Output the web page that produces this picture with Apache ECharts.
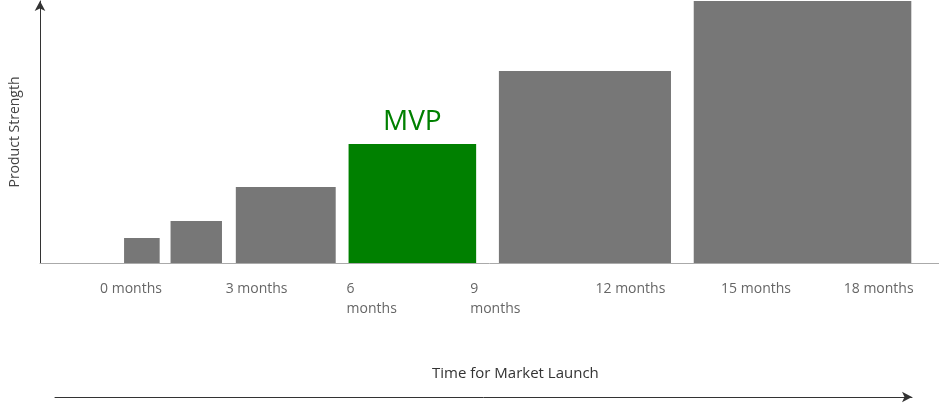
<!DOCTYPE html>
<html><head><meta charset="utf-8">
<script src="https://cdn.jsdelivr.net/npm/echarts@6/dist/echarts.min.js"></script>
<style>html,body{margin:0;padding:0;background:#fff}#c{width:939px;height:403px}</style>
</head><body><div id="c"></div>
<script>
// bars on a timeline: start, end, strength
var barStart = [115, 162, 228, 342, 494, 691];
var barEnd = [151, 214, 329, 471, 668, 911];
var strength = [25, 42, 76, 119, 192, 262];
var mvpIndex = 3;
var tickLabels = ['0 months', '3 months', '6\nmonths', '9\nmonths', '12 months', '15 months', '18 months'];
var tickPos = [122, 249, 340, 465, 627, 754, 878];
var tickAlign = ['center', 'center', 'left', 'left', 'center', 'center', 'center'];

var chart = echarts.init(document.getElementById('c'));
var bars = barStart.map(function (s, i) { return [s, barEnd[i], strength[i], i]; });
var ticks = tickPos.map(function (p, i) { return [p, i]; });

chart.setOption({
    animation: false,
    grid: [
        {left: 30, right: 0, top: 1, height: 262},
        {left: 55, right: 27, top: 397, height: 0}
    ],
    xAxis: [
        {type: 'value', min: 30, max: 939, gridIndex: 0,
         axisLine: {lineStyle: {color: '#aaaaaa', width: 1}},
         axisTick: {show: false}, axisLabel: {show: false}, splitLine: {show: false}},
        {type: 'value', min: 0, max: 1, gridIndex: 1,
         axisLine: {symbol: ['none', 'arrow'], symbolSize: [8, 10], lineStyle: {color: '#333', width: 1}},
         axisTick: {show: false}, axisLabel: {show: false}, splitLine: {show: false}}
    ],
    yAxis: [
        {type: 'value', min: 0, max: 262, gridIndex: 0,
         axisLine: {show: true, onZero: false, symbol: ['none', 'arrow'], symbolSize: [8, 10], lineStyle: {color: '#333', width: 1}},
         axisTick: {show: false}, axisLabel: {show: false}, splitLine: {show: false},
         name: 'Product Strength', nameLocation: 'middle', nameRotate: 90, nameGap: 18,
         nameTextStyle: {color: '#444', fontSize: 14, fontFamily: 'Open Sans'}},
        {type: 'value', gridIndex: 1, show: false}
    ],
    graphic: [
        {type: 'text', left: 432, top: 366,
         style: {text: 'Time for Market Launch', fill: '#333', fontSize: 15, fontFamily: 'Open Sans'}}
    ],
    series: [
        {type: 'custom', xAxisIndex: 0, yAxisIndex: 0, data: bars,
         renderItem: function (params, api) {
             var p0 = api.coord([api.value(0), api.value(2)]);
             var p1 = api.coord([api.value(1), 0]);
             var isMvp = api.value(3) === mvpIndex;
             var children = [{type: 'rect', shape: {x: p0[0], y: p0[1], width: p1[0] - p0[0], height: p1[1] - p0[1]},
                 style: {fill: isMvp ? '#008000' : '#777777'}}];
             if (isMvp) {
                 children.push({type: 'text', style: {text: 'MVP', x: (p0[0] + p1[0]) / 2, y: p0[1] - 22,
                     align: 'center', verticalAlign: 'middle', fill: '#008000', fontSize: 28, fontFamily: 'Open Sans'}});
             }
             return {type: 'group', children: children};
         }},
        {type: 'custom', xAxisIndex: 0, yAxisIndex: 0, data: ticks,
         renderItem: function (params, api) {
             var i = api.value(1);
             var p = api.coord([api.value(0), 0]);
             return {type: 'text', style: {text: tickLabels[i], x: p[0], y: p[1] + 16, align: tickAlign[i],
                 verticalAlign: 'top', fill: '#666', fontSize: 14, lineHeight: 20, fontFamily: 'Open Sans'}};
         }}
    ]
});
</script></body></html>
